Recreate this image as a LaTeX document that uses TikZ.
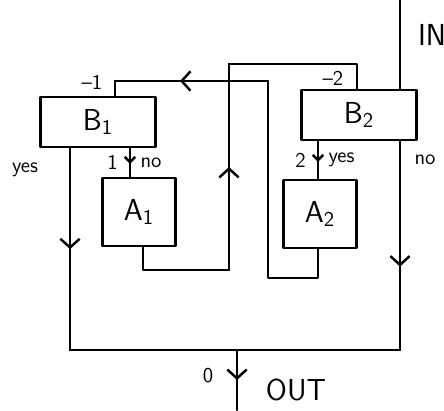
\documentclass[tikz,border=0pt]{standalone}
\usepackage{tikz}
\usetikzlibrary{positioning,arrows.meta,decorations.markings}

\begin{document}
\begin{tikzpicture}[
  x=0.02cm,y=-0.02cm,
  font=\sffamily\large,
  line width=1.4pt,line cap=round,line join=round,
  bbox/.style={rectangle,draw,line width=1.6pt,minimum width=2.3cm,minimum height=1cm,inner sep=0pt,font=\sffamily\LARGE},
  abox/.style={rectangle,draw,line width=1.6pt,minimum width=1.46cm,minimum height=1.36cm,inner sep=0pt,font=\sffamily\LARGE},
  midarr/.style={postaction={decorate},decoration={markings,mark=at position #1 with {\arrow{Straight Barb[length=5pt,width=11pt]}}}},
  tinyarr/.style={postaction={decorate},decoration={markings,mark=at position 0.55 with {\arrow{Straight Barb[length=3pt,width=6pt]}}}},
  bigtext/.style={font=\sffamily\LARGE},
]
\useasboundingbox (0,0) rectangle (444,411);

% decision and action boxes
\node[bbox] (b1) at (98,122)  {B\textsubscript{1}};
\node[bbox] (b2) at (359,115) {B\textsubscript{2}};
\node[abox] (a1) at (139,212) {A\textsubscript{1}};
\node[abox] (a2) at (320,214) {A\textsubscript{2}};

% entry and exit
\coordinate (in)   at (400,0);
\coordinate (out)  at (237,410);
\coordinate (busl) at (70,350);
\coordinate (busr) at (400,350);
\node[bigtext] (inlbl)  at (432,35)  {IN};
\node[bigtext] (outlbl) at (296,390) {OUT};
\node (zero) at (208,376) {0};

\draw (in) -- (in |- b2.north);
\draw[midarr=0.6] (b2.south -| busr) -- (busr);
\draw[midarr=0.5] (b1.south -| busl) -- (busl);
\draw (busl) -- (busr);
\draw[midarr=0.5] (busl -| out) -- (out);
\node (yes1) at (25,170) {yes};
\node (no2)  at (425,160) {no};

% B -> A
\coordinate (a1in) at (130,0);
\coordinate (a2in) at (318,0);
\draw[tinyarr] (b1.south -| a1in) -- node[left=3pt]{1} node[right=2pt]{no} (a1.north -| a1in);
\draw[tinyarr] (b2.south -| a2in) -- node[left=3pt]{2} node[right=2pt]{yes} (a2.north -| a2in);

% A1 back to B2
\coordinate (r1) at (143,270);
\coordinate (r2) at (229,270);
\coordinate (r3) at (229,64);
\coordinate (r4) at (357,64);
\draw (a1.south -| r1) -- (r1) -- (r2) -- (r3) -- (r4) -- (b2.north -| r4);
\draw[midarr=0.5] (r2) -- (r3);
\node (m2) at (333,78) {--2};

% A2 back to B1
\coordinate (s1) at (318,278);
\coordinate (s2) at (268,278);
\coordinate (s3) at (268,81);
\coordinate (s4) at (115,81);
\draw (a2.south -| s1) -- (s1) -- (s2) -- (s3) -- (s4) -- (b1.north -| s4);
\draw[midarr=0.575] (s3) -- (s4);
\node (m1) at (92,82) {--1};
\end{tikzpicture}
\end{document}
